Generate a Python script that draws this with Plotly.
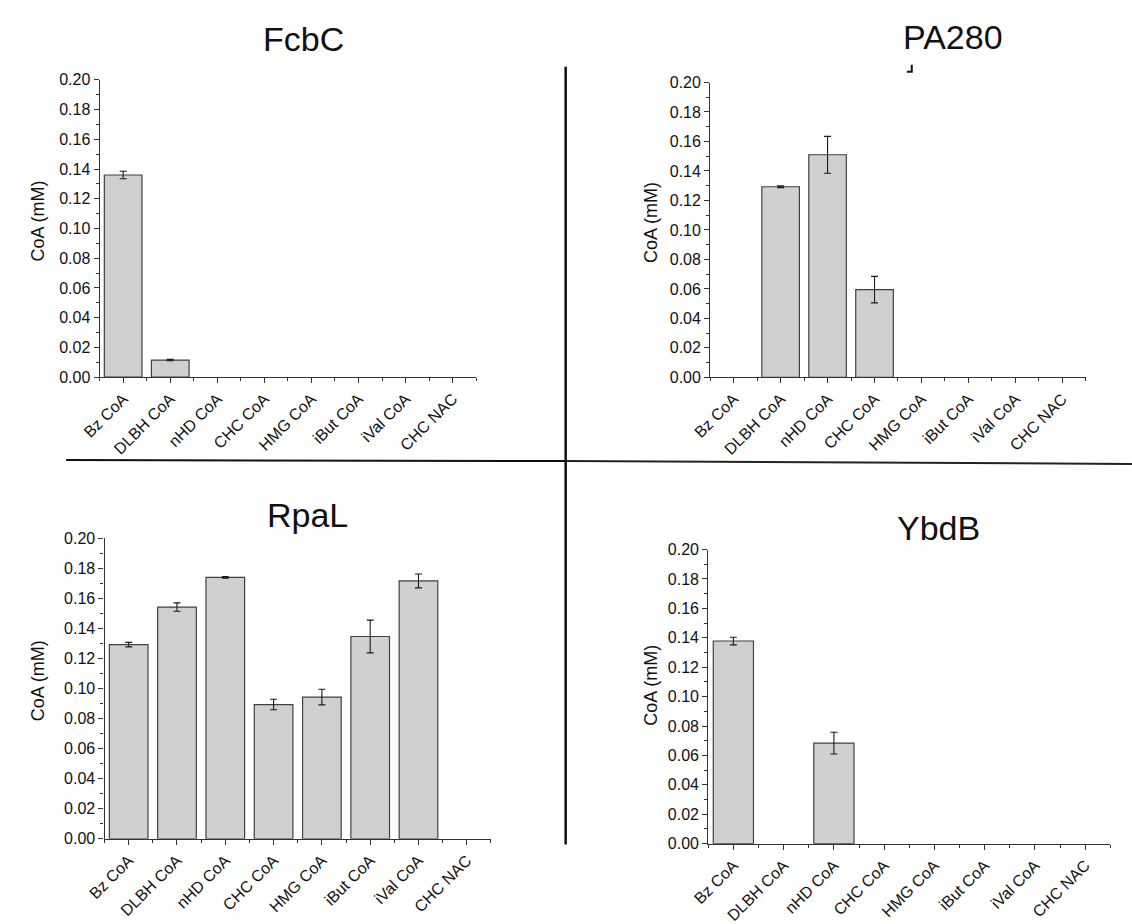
import plotly.graph_objects as go

W, H = 1132, 924

categories = ["Bz CoA", "DLBH CoA", "nHD CoA", "CHC CoA", "HMG CoA", "iBut CoA", "iVal CoA", "CHC NAC"]
y_ticks = [0.00, 0.02, 0.04, 0.06, 0.08, 0.10, 0.12, 0.14, 0.16, 0.18, 0.20]

fcbc_values = [0.136, 0.0115, 0, 0, 0, 0, 0, 0]
fcbc_errors = [0.0025, 0.0005, 0, 0, 0, 0, 0, 0]

pa280_values = [0, 0.1293, 0.151, 0.0595, 0, 0, 0, 0]
pa280_errors = [0, 0.0006, 0.0125, 0.009, 0, 0, 0, 0]

rpal_values = [0.1293, 0.1543, 0.1741, 0.0894, 0.0944, 0.1347, 0.1717, 0]
rpal_errors = [0.0015, 0.0028, 0.0005, 0.0035, 0.0052, 0.0109, 0.0046, 0]

ybdb_values = [0.1378, 0, 0.0684, 0, 0, 0, 0, 0]
ybdb_errors = [0.0026, 0, 0.0074, 0, 0, 0, 0, 0]

panel_titles = ["FcbC", "PA280", "RpaL", "YbdB"]

FONT = "Liberation Sans, Arial, Helvetica, sans-serif"

# panel geometry in pixels: (x0, x1, ytop, ybottom), title pos, axis-title pos
panels = [
    dict(vals=fcbc_values, errs=fcbc_errors, box=(82, 465, 73.3, 376.5), title=(289, 32), ylab=(19, 217)),
    dict(vals=pa280_values, errs=pa280_errors, box=(703, 1085, 76, 376.7), title=(950, 30), ylab=(643, 219)),
    dict(vals=rpal_values, errs=rpal_errors, box=(87, 480, 541, 847.3), title=(293, 517), ylab=(19, 686)),
    dict(vals=ybdb_values, errs=ybdb_errors, box=(701, 1110, 552.3, 852.3), title=(935, 530), ylab=(642, 691)),
]

def px(x):
    return x / W

def py(y):
    return 1 - y / H

fig = go.Figure()
xpos = list(range(len(categories)))

for i, p in enumerate(panels):
    n = i + 1
    xa = "x" if n == 1 else f"x{n}"
    ya = "y" if n == 1 else f"y{n}"
    shown = [v if v else None for v in p["vals"]]
    fig.add_trace(go.Bar(
        x=xpos, y=shown, xaxis=xa, yaxis=ya, width=0.8,
        marker=dict(color="#d0d0d0", line=dict(color="#404040", width=1.2)),
        error_y=dict(type="data", array=p["errs"],
                     visible=True, color="#1a1a1a", thickness=1.1, width=3.5),
        showlegend=False, hoverinfo="skip",
    ))
    x0, x1, yt, yb = p["box"]
    xkey = "xaxis" if n == 1 else f"xaxis{n}"
    ykey = "yaxis" if n == 1 else f"yaxis{n}"
    fig.update_layout(**{
        xkey: dict(
            domain=[px(x0), px(x1)], anchor=ya, range=[-0.5, 7.5],
            tickmode="array", tickvals=xpos, ticktext=categories, tickangle=-45,
            ticks="outside", ticklen=5, tickwidth=1, tickcolor="#333",
            showline=True, linecolor="#333", linewidth=1.2,
            showgrid=False, zeroline=False, fixedrange=True,
            tickfont=dict(family=FONT, size=16, color="#111"),
            minor=dict(tickvals=[k - 0.5 for k in range(len(categories) + 1)],
                       ticks="outside", ticklen=3, tickcolor="#333", tickwidth=1),
        ),
        ykey: dict(
            domain=[py(yb), py(yt)], anchor=xa, range=[0, 0.2],
            tickmode="array", tickvals=y_ticks, ticktext=[f"{v:.2f}" for v in y_ticks],
            ticks="outside", ticklen=5, tickwidth=1, tickcolor="#333",
            showline=True, linecolor="#333", linewidth=1.2,
            showgrid=False, zeroline=False, fixedrange=True,
            tickfont=dict(family=FONT, size=16, color="#111"),
            minor=dict(dtick=0.01, tick0=0, ticks="outside", ticklen=3, tickcolor="#333", tickwidth=1),
        ),
    })
    tx, ty = p["title"]
    fig.add_annotation(x=px(tx), y=py(ty), xref="paper", yref="paper", text=panel_titles[i],
                       showarrow=False, xanchor="center", yanchor="middle",
                       font=dict(family=FONT, size=34, color="#111"))
    lx, ly = p["ylab"]
    fig.add_annotation(x=px(lx), y=py(ly), xref="paper", yref="paper", text="CoA (mM)",
                       showarrow=False, xanchor="center", yanchor="middle", textangle=-90,
                       font=dict(family=FONT, size=18, color="#111"))

# divider lines
shapes = [
    dict(type="line", xref="paper", yref="paper", x0=px(556), x1=px(556), y0=py(60), y1=py(853),
         line=dict(color="#111", width=2.5)),
    dict(type="line", xref="paper", yref="paper", x0=px(48), x1=px(556), y0=py(461), y1=py(462),
         line=dict(color="#111", width=2)),
    dict(type="line", xref="paper", yref="paper", x0=px(556), x1=px(1132), y0=py(462), y1=py(465),
         line=dict(color="#222", width=2)),
    # small mark under the PA280 title
    dict(type="path", xref="paper", yref="paper",
         path=f"M {px(903)},{py(65)} L {px(908)},{py(65)} L {px(908)},{py(58)}",
         line=dict(color="#111", width=2)),
]
fig.update_layout(shapes=shapes)

fig.update_layout(
    width=W, height=H, margin=dict(l=0, r=0, t=0, b=0),
    paper_bgcolor="white", plot_bgcolor="white",
    bargap=0.2, font=dict(family=FONT),
)

fig.write_html("out.html",
               post_script="document.body.style.margin='0';document.body.style.overflow='hidden';")
